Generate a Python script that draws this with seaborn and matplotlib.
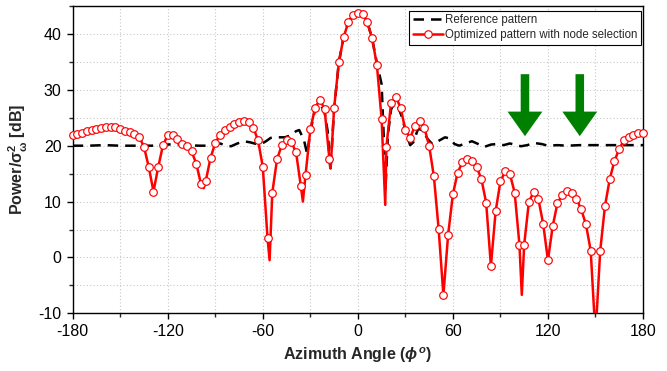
import pandas as pd
import matplotlib
matplotlib.use("Agg")
import matplotlib.pyplot as plt
import seaborn as sns
from matplotlib.lines import Line2D
from matplotlib.patches import FancyArrow
from matplotlib.ticker import MultipleLocator

# Optimized pattern with node selection (one marker every 3 degrees)
OPT_ANGLE = [
    -180, -177, -174, -171, -168, -165, -162, -159, -156, -153, -150, -147, -144, -141, -138,
    -135, -132, -129, -126, -123, -120, -117, -114, -111, -108, -105, -102, -99, -96, -93,
    -90, -87, -84, -81, -78, -75, -72, -69, -66, -63, -60, -57, -54, -51, -48,
    -45, -42, -39, -36, -33, -30, -27, -24, -21, -18, -15, -12, -9, -6, -3,
    0, 3, 6, 9, 12, 15, 18, 21, 24, 27, 30, 33, 36, 39, 42,
    45, 48, 51, 54, 57, 60, 63, 66, 69, 72, 75, 78, 81, 84, 87,
    90, 93, 96, 99, 102, 105, 108, 111, 114, 117, 120, 123, 126, 129, 132,
    135, 138, 141, 144, 147, 150, 153, 156, 159, 162, 165, 168, 171, 174, 177,
    180,
]
OPT_POWER = [
    22.0, 22.1, 22.3, 22.6, 22.8, 23.0, 23.2, 23.4, 23.4, 23.3, 22.9, 22.7, 22.4, 22.1, 21.6,
    19.8, 16.2, 11.8, 16.2, 20.1, 21.9, 22.0, 21.2, 20.3, 19.9, 19.0, 16.8, 13.1, 13.7, 17.8,
    20.5, 22.0, 22.8, 23.4, 23.9, 24.3, 24.5, 24.3, 23.2, 21.0, 16.2, 3.4, 11.6, 17.6, 20.1,
    21.0, 20.7, 18.8, 12.8, 14.8, 22.9, 26.8, 28.2, 26.6, 17.7, 26.7, 34.9, 39.4, 42.1, 43.4,
    43.8, 43.6, 42.1, 39.2, 34.5, 24.8, 19.7, 27.7, 28.7, 26.8, 22.8, 21.4, 23.5, 24.5, 23.2,
    20.0, 14.5, 5.1, -6.75, 4.1, 11.3, 15.2, 17.0, 17.7, 17.2, 16.2, 14.0, 9.8, -1.5, 8.3,
    13.6, 15.4, 14.9, 11.6, 2.3, 2.3, 10.0, 11.7, 10.4, 6.0, -0.5, 5.6, 9.7, 11.2, 11.9,
    11.5, 10.5, 8.6, 5.9, 1.2, -14.0, 1.2, 9.2, 14.0, 17.3, 19.4, 21.0, 21.6, 22.0, 22.2,
    22.3,
]

# deep nulls of the optimized curve that fall between two markers
NULL_ANGLE = [-97.3, -55.7, -34.7, -17.2, 17.3, 103.5]
NULL_POWER = [12.4, -0.5, 10.0, 15.9, 9.4, -6.7]

# Reference pattern (dashed)
REF_ANGLE = [
    -180, -170, -160, -150, -140, -130, -120, -115, -110, -100,
    -95, -90, -87, -83, -80, -76, -72, -68, -64, -61,
    -58, -55, -50, -46, -42, -39, -37, -34, -32, -30,
    -27, -24, -21, -19, -17.3, -15, -12, -9, -6, -3,
    0, 3, 6, 9, 12, 15, 16.3, 17.4, 19, 21,
    23, 25, 28, 30, 33, 35, 38, 41, 44, 47,
    50, 55, 58, 61, 64, 68, 72, 76, 80, 84,
    88, 92, 96, 100, 103, 107, 111, 116, 120, 126,
    132, 140, 150, 160, 170, 180,
]
REF_POWER = [
    20.0, 20.0, 20.1, 20.0, 20.0, 20.0, 20.2, 20.3, 20.1, 20.0,
    20.0, 20.3, 20.4, 20.0, 19.9, 20.4, 20.8, 20.6, 20.3, 20.3,
    20.8, 21.4, 21.5, 21.5, 21.9, 22.6, 22.8, 21.0, 18.5, 22.5,
    26.5, 27.6, 26.0, 22.5, 15.5, 26.5, 34.9, 39.4, 42.1, 43.4,
    43.8, 43.6, 42.1, 39.2, 34.8, 31.0, 22.0, 12.0, 22.0, 26.5,
    27.6, 27.3, 25.0, 22.8, 20.1, 20.6, 23.0, 22.8, 21.2, 20.3,
    20.7, 21.5, 21.3, 20.3, 20.0, 20.4, 20.8, 20.3, 19.8, 20.2,
    20.3, 20.1, 20.4, 20.1, 19.9, 20.1, 20.5, 20.3, 20.0, 20.1,
    20.0, 20.1, 20.1, 20.1, 20.1, 20.1,
]

# green arrows pointing at the suppressed directions
ARROW_X = [105.5, 140.1]
ARROW_TOP = 32.8
ARROW_TIP = 21.7

XTICKS = [-180, -120, -60, 0, 60, 120, 180]
YTICKS = [-10, 0, 10, 20, 30, 40]
LABELS = ["Reference pattern", "Optimized pattern with node selection"]

sns.set_style("ticks")
plt.rcParams['font.family'] = ['Liberation Sans', 'DejaVu Sans']
plt.rcParams['axes.unicode_minus'] = False
plt.rcParams['mathtext.fontset'] = 'custom'
plt.rcParams['mathtext.rm'] = 'Liberation Sans:bold'
plt.rcParams['mathtext.it'] = 'Liberation Sans:italic:bold'
plt.rcParams['mathtext.bf'] = 'Liberation Sans:bold'

opt = pd.DataFrame({'angle': OPT_ANGLE, 'power': OPT_POWER})
nulls = pd.DataFrame({'angle': NULL_ANGLE, 'power': NULL_POWER})
curve = pd.concat([opt, nulls], ignore_index=True).sort_values('angle')
ref = pd.DataFrame({'angle': REF_ANGLE, 'power': REF_POWER})

RED_LW = 1.8
REF_LW = 1.8
REF_DASH = (0, (4.2, 2.8))

fig = plt.figure(figsize=(6.67, 3.71), dpi=100)
ax = fig.add_axes([0.109, 0.1555, 0.855, 0.8283])

sns.lineplot(data=ref, x='angle', y='power', ax=ax, color='black', lw=REF_LW,
             linestyle=REF_DASH, estimator=None, zorder=2)
sns.lineplot(data=curve, x='angle', y='power', ax=ax, color='red', lw=RED_LW,
             estimator=None, zorder=3)
shown = opt[opt['power'] >= -10]
sns.scatterplot(data=shown, x='angle', y='power', ax=ax, marker='o', s=30,
                facecolor='white', edgecolor='red', linewidth=0.85,
                clip_on=False, zorder=4)

for x in ARROW_X:
    ax.add_patch(FancyArrow(x, ARROW_TOP, 0, ARROW_TIP - ARROW_TOP, width=5.4,
                            head_width=22, head_length=4.4,
                            length_includes_head=True, color='#008000',
                            lw=0, zorder=5))

ax.set_xlim(-180, 180)
ax.set_ylim(-10, 45)
ax.set_xticks(XTICKS)
ax.set_yticks(YTICKS)
ax.xaxis.set_minor_locator(MultipleLocator(30))
ax.yaxis.set_minor_locator(MultipleLocator(5))
ax.tick_params(which='major', direction='out', length=4.5, width=1,
               labelsize=11.5, colors='black')
ax.tick_params(which='minor', direction='out', length=3, width=1)
ax.grid(True, which='both', linestyle=(0, (1, 2)), color='#c8c8c8', lw=0.8)
ax.set_axisbelow(True)
for sp in ax.spines.values():
    sp.set_linewidth(1.0)
    sp.set_color('black')

ax.set_xlabel(r'Azimuth Angle ($\phi^o$)', fontsize=11.5, fontweight='bold', labelpad=4)
ax.set_ylabel(r'Power/$\mathrm{\sigma^2_\omega}$ [dB]', fontsize=11.5,
              fontweight='bold', labelpad=6)

handles = [
    Line2D([], [], color='black', lw=REF_LW, linestyle=REF_DASH),
    Line2D([], [], color='red', lw=RED_LW, marker='o', ms=5.4, mfc='white',
           mec='red', mew=0.85),
]
leg = ax.legend(handles, LABELS, loc='upper right', bbox_to_anchor=(0.9965, 0.9837),
                borderaxespad=0, frameon=True, fancybox=False, edgecolor='black',
                framealpha=1, fontsize=8.3, handlelength=2.6, handletextpad=0.2,
                borderpad=0.3, labelspacing=0.25)
leg.get_frame().set_linewidth(0.8)
leg.set_zorder(6)

fig.savefig("out.png", dpi=100)
